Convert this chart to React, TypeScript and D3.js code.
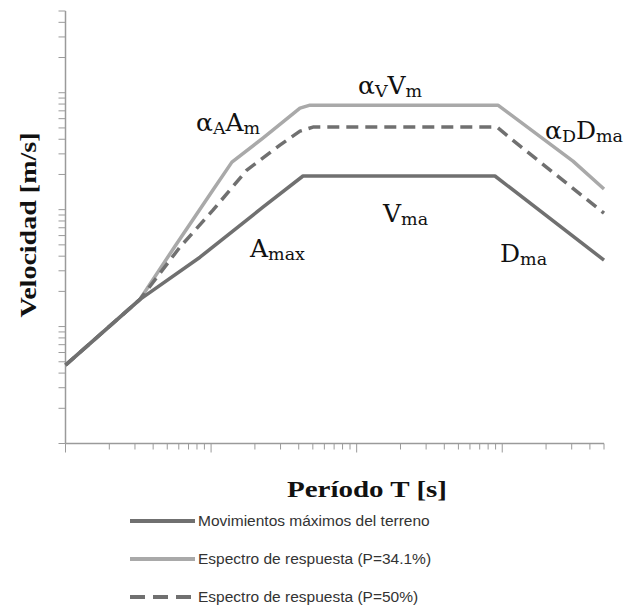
import React from "react";
import * as d3 from "d3";

// Period (s) and velocity (m/s) for each curve
const periodsGround = [0.01, 0.0325, 0.0839, 0.227, 0.428, 8.91, 50];
const velGround = [4.68, 17.1, 39.2, 105, 194, 194, 37.0];

const periods341 = [0.01, 0.0325, 0.0565, 0.103, 0.139, 0.227, 0.408, 0.478, 9.34, 30.6, 50];
const vel341 = [4.68, 17.1, 48.7, 147, 255, 409, 738, 783, 783, 260, 150];

const periods50 = [0.01, 0.0325, 0.0611, 0.103, 0.176, 0.297, 0.408, 0.501, 9.2, 11.8, 50];
const vel50 = [4.68, 17.1, 47.8, 99, 218, 356, 469, 508, 508, 393, 93.3];

const legendLabels = [
  "Movimientos máximos del terreno",
  "Espectro de respuesta (P=34.1%)",
  "Espectro de respuesta (P=50%)",
];

const W = 627;
const H = 612;

const DARK = "#707070";
const LIGHT = "#a9a9a9";
const AXIS = "#9a9a9a";

const serif = "'DejaVu Serif', 'Liberation Serif', serif";
const titleSerif = "'Liberation Serif', serif";
const sans = "'Liberation Sans', Arial, sans-serif";

function zip(a: number[], b: number[]): [number, number][] {
  return a.map((v, i) => [v, b[i]]);
}

function Sub({ main, sub, x, y }: { main: string[]; sub: string[]; x: number; y: number }) {
  // Alternating main/subscript runs
  const parts: React.ReactNode[] = [];
  main.forEach((m, i) => {
    parts.push(
      <tspan key={"m" + i} fontSize={25} dy={i === 0 ? 0 : -3}>
        {m}
      </tspan>
    );
    if (sub[i]) {
      parts.push(
        <tspan key={"s" + i} fontSize={17.5} dy={3}>
          {sub[i]}
        </tspan>
      );
    }
  });
  return (
    <text x={x} y={y} fontFamily={serif} fill="#111">
      {parts}
    </text>
  );
}

export default function App() {
  const x = d3.scaleLog().domain([0.01, 50]).range([65.5, 604]);
  const y = d3.scaleLog().domain([1, 5000]).range([443.5, 11]);

  const line = d3
    .line<[number, number]>()
    .x((d) => x(d[0]))
    .y((d) => y(d[1]));

  const xTicks = x.ticks();
  const yTicks = y.ticks();
  const isMajor = (v: number) => Math.abs(Math.log10(v) - Math.round(Math.log10(v))) < 1e-6;

  const x0 = x.range()[0];
  const yBase = y.range()[0];

  const legendY = [521, 559, 597];

  return (
    <svg
      width={W}
      height={H}
      style={{ position: "absolute", left: 0, top: 0, background: "#fff" }}
    >
      {/* axes */}
      <line x1={x0} x2={x0} y1={y.range()[1]} y2={yBase} stroke={AXIS} strokeWidth={1.5} />
      <line x1={x0} x2={x.range()[1]} y1={yBase} y2={yBase} stroke={AXIS} strokeWidth={1.5} />
      {yTicks.map((t, i) => (
        <line
          key={"yt" + i}
          x1={x0 - 7}
          x2={x0}
          y1={y(t)}
          y2={y(t)}
          stroke={AXIS}
          strokeWidth={1}
        />
      ))}
      {xTicks.map((t, i) => (
        <line
          key={"xt" + i}
          x1={x(t)}
          x2={x(t)}
          y1={yBase}
          y2={yBase + (isMajor(t) ? 9 : 6)}
          stroke={AXIS}
          strokeWidth={1}
        />
      ))}

      {/* curves */}
      <path d={line(zip(periods341, vel341)) || ""} fill="none" stroke={LIGHT} strokeWidth={3.5} strokeLinejoin="round" />
      <path
        d={line(zip(periods50, vel50)) || ""}
        fill="none"
        stroke={DARK}
        strokeWidth={3.5}
        strokeDasharray="12,7"
        strokeLinejoin="round"
      />
      <path d={line(zip(periodsGround, velGround)) || ""} fill="none" stroke={DARK} strokeWidth={3.5} strokeLinejoin="round" />

      {/* curve annotations */}
      <Sub main={["α", "A"]} sub={["A", "m"]} x={196} y={131} />
      <Sub main={["α", "V"]} sub={["V", "m"]} x={358} y={94} />
      <Sub main={["α", "D"]} sub={["D", "ma"]} x={545} y={139} />
      <Sub main={["V"]} sub={["ma"]} x={383} y={222} />
      <Sub main={["A"]} sub={["max"]} x={250} y={257} />
      <Sub main={["D"]} sub={["ma"]} x={500} y={262} />

      {/* axis titles */}
      <text
        transform="translate(36,225) rotate(-90)"
        textAnchor="middle"
        fontFamily={titleSerif}
        fontWeight="bold"
        fontSize={24}
        textLength={185}
        lengthAdjust="spacingAndGlyphs"
        fill="#111"
      >
        Velocidad [m/s]
      </text>
      <text
        x={367}
        y={497}
        textAnchor="middle"
        fontFamily={titleSerif}
        fontWeight="bold"
        fontSize={24}
        textLength={160}
        lengthAdjust="spacingAndGlyphs"
        fill="#111"
      >
        Período T [s]
      </text>

      {/* legend */}
      <line x1={130} x2={195} y1={legendY[0]} y2={legendY[0]} stroke={DARK} strokeWidth={4} />
      <line x1={130} x2={195} y1={legendY[1]} y2={legendY[1]} stroke={LIGHT} strokeWidth={4} />
      <line
        x1={130}
        x2={195}
        y1={legendY[2]}
        y2={legendY[2]}
        stroke={DARK}
        strokeWidth={4}
        strokeDasharray="15,8"
      />
      {legendLabels.map((s, i) => (
        <text
          key={"lg" + i}
          x={198}
          y={legendY[i] + 5}
          fontFamily={sans}
          fontSize={15.5}
          fill="#333"
        >
          {s}
        </text>
      ))}
    </svg>
  );
}
